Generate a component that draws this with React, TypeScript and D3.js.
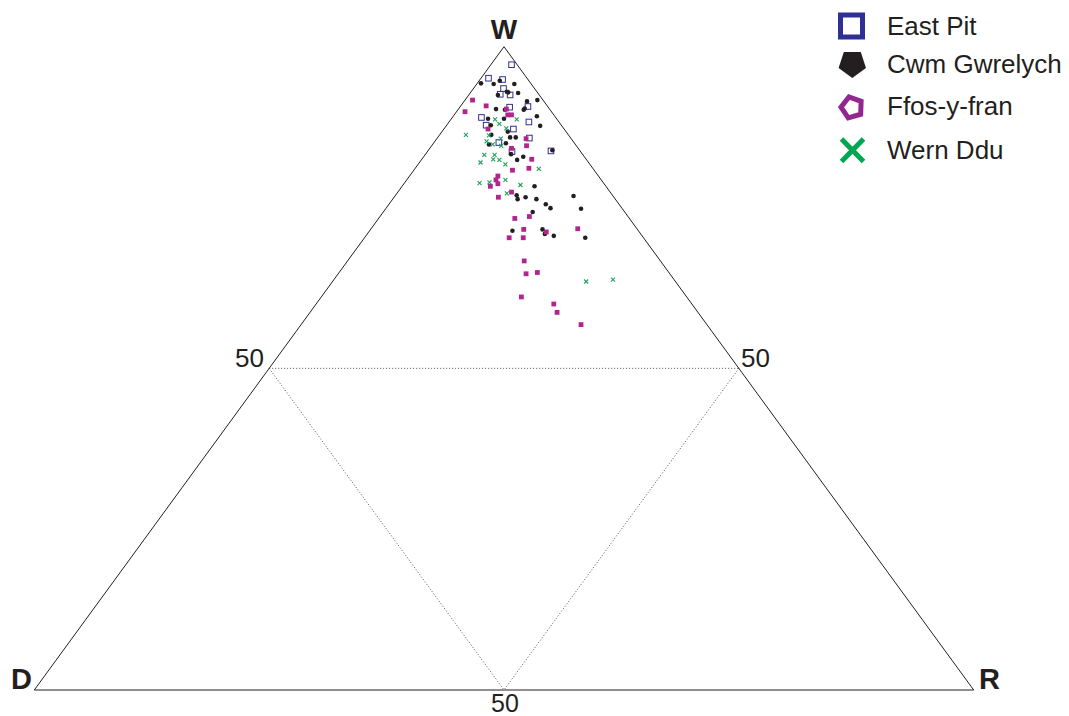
import React from "react";
import * as d3 from "d3";

// Ternary compositions in percent: [W, R] (D = 100 - W - R)
const eastPit: [number, number][] = [
  [97.2, 2.2], [95.1, 0.8], [94.9, 2.4], [93.5, 3.2], [92.6, 3.3], [92.5, 4.4],
  [90.7, 7.2], [90.6, 5.3], [89.0, 3.1], [88.3, 8.5], [87.8, 4.2], [87.2, 7.4],
  [85.8, 9.8], [85.1, 6.9], [83.7, 9.0], [83.8, 13.1],
];
const cwmGwrelych: [number, number][] = [
  [94.3, 0.4], [94.2, 1.8], [94.7, 2.2], [94.2, 4.0], [93.0, 3.8], [92.9, 4.0],
  [92.5, 3.1], [92.8, 5.1], [91.5, 6.7], [91.7, 7.7], [90.4, 7.0], [90.2, 7.0],
  [90.3, 4.0], [90.2, 5.0], [88.8, 3.9], [88.8, 5.6], [89.2, 8.9], [87.7, 10.0],
  [87.8, 4.7], [86.8, 7.0], [86.3, 5.5], [85.9, 7.7], [85.9, 8.3], [84.8, 6.0],
  [85.0, 7.7], [83.3, 9.1], [83.9, 13.2], [82.9, 10.6], [82.4, 10.2], [78.3, 14.1],
  [76.9, 12.9], [76.3, 13.3], [76.6, 14.0], [76.3, 15.3], [76.8, 19.0], [75.5, 16.7],
  [74.9, 17.5], [74.8, 20.8], [74.3, 15.9], [71.4, 15.2], [71.6, 18.3], [70.9, 18.9],
  [70.6, 20.0], [70.3, 23.5],
];
const ffosYFran: [number, number][] = [
  [91.7, 0.8], [90.8, 2.7], [89.9, 0.9], [90.3, 5.1], [89.4, 5.7], [89.4, 6.1],
  [87.2, 4.7], [85.7, 9.5], [84.6, 10.1], [84.2, 8.7], [82.5, 11.7], [80.8, 10.5],
  [81.1, 12.1], [79.9, 9.4], [79.3, 9.5], [78.7, 10.0], [78.3, 9.4], [77.4, 12.1],
  [76.6, 11.1], [73.3, 14.5], [73.6, 15.9], [71.6, 16.3], [71.2, 18.9], [71.7, 22.0],
  [70.3, 15.4], [70.3, 16.9], [66.7, 18.8], [64.7, 20.0], [64.9, 21.1], [61.1, 21.3],
  [60.0, 25.3], [58.7, 26.3], [56.8, 29.8],
];
const wernDdu: [number, number][] = [
  [88.7, 4.7], [88.0, 5.5], [88.7, 7.0], [87.3, 6.6], [86.3, 2.8], [86.2, 5.3],
  [85.3, 5.5], [85.7, 6.8], [84.8, 6.4], [84.6, 7.4], [83.2, 6.3], [83.2, 7.4],
  [82.5, 7.6], [82.4, 8.3], [82.0, 6.5], [81.7, 9.3], [81.0, 13.2], [79.3, 10.5],
  [78.8, 8.0], [78.9, 9.0], [78.5, 12.5], [77.2, 11.7], [63.5, 27.0], [63.8, 29.7],
];
const seriesNames = ["East Pit", "Cwm Gwrelych", "Ffos-y-fran", "Wern Ddu"];
const apexLabels = ["W", "D", "R"];
const gridLabel = "50";

const C_BLUE = "#2e3192";
const C_BLACK = "#231f20";
const C_MAG = "#b3248e";
const C_PURPLE = "#92278f";
const C_GREEN = "#1ea35a";
const C_GREEN_L = "#00a651";

const yScale = d3.scaleLinear().domain([0, 100]).range([690, 46.7]);
const xScale = d3.scaleLinear().domain([0, 100]).range([34.3, 973.7]);
const px = (w: number, r: number): [number, number] => [xScale(r + w / 2), yScale(w)];

function pentagon(cx: number, cy: number, R: number, rotDeg: number) {
  const pts: string[] = [];
  for (let i = 0; i < 5; i++) {
    const a = ((rotDeg + i * 72) * Math.PI) / 180;
    pts.push(`${cx + R * Math.sin(a)},${cy - R * Math.cos(a)}`);
  }
  return pts.join(" ");
}

export default function App() {
  const W = px(100, 0);
  const D = px(0, 0);
  const R = px(0, 100);
  const mL = px(50, 0);
  const mR = px(50, 50);
  const mB = px(0, 50);
  const font = "'Liberation Sans', Arial, sans-serif";
  const tri = d3.line()([W, D, R, W] as [number, number][]) + "Z";
  return (
    <svg width={1069} height={716} style={{ position: "absolute", left: 0, top: 0, background: "#fff" }} fontFamily={font}>
      <rect width={1069} height={716} fill="#fff" />
      <g stroke="#555" strokeWidth={1} strokeDasharray="1,2" fill="none">
        <line x1={mL[0]} y1={mL[1]} x2={mR[0]} y2={mR[1]} />
        <line x1={mL[0]} y1={mL[1]} x2={mB[0]} y2={mB[1]} />
        <line x1={mR[0]} y1={mR[1]} x2={mB[0]} y2={mB[1]} />
      </g>
      <path d={tri} fill="none" stroke="#231f20" strokeWidth={1} />
      {/* points */}
      {eastPit.map(([w, r], i) => {
        const [x, y] = px(w, r);
        return <rect key={"e" + i} x={x - 2.8} y={y - 2.8} width={5.6} height={5.6} fill="#fff" stroke={C_BLUE} strokeWidth={1} />;
      })}
      {cwmGwrelych.map(([w, r], i) => {
        const [x, y] = px(w, r);
        return <circle key={"c" + i} cx={x} cy={y} r={2.3} fill={C_BLACK} />;
      })}
      {ffosYFran.map(([w, r], i) => {
        const [x, y] = px(w, r);
        return <rect key={"f" + i} x={x - 2.4} y={y - 2.4} width={4.8} height={4.8} fill={C_MAG} />;
      })}
      {wernDdu.map(([w, r], i) => {
        const [x, y] = px(w, r);
        const s = 2;
        return (
          <path key={"w" + i} d={`M${x - s},${y - s}L${x + s},${y + s}M${x - s},${y + s}L${x + s},${y - s}`} stroke={C_GREEN} strokeWidth={1.1} />
        );
      })}
      {/* apex labels */}
      <text x={W[0]} y={38.5} textAnchor="middle" fontSize={28} fontWeight="bold" fill={C_BLACK}>{apexLabels[0]}</text>
      <text x={11} y={689} fontSize={29} fontWeight="bold" fill={C_BLACK}>{apexLabels[1]}</text>
      <text x={979} y={689} fontSize={29} fontWeight="bold" fill={C_BLACK}>{apexLabels[2]}</text>
      <text x={264} y={366.5} textAnchor="end" fontSize={26} fill={C_BLACK}>{gridLabel}</text>
      <text x={741} y={366.5} fontSize={26} fill={C_BLACK}>{gridLabel}</text>
      <text x={mB[0] + 1} y={712} textAnchor="middle" fontSize={25} fill={C_BLACK}>{gridLabel}</text>
      {/* legend */}
      <rect x={840.5} y={15} width={22} height={22} fill="none" stroke={C_BLUE} strokeWidth={5} />
      <polygon points={pentagon(852.3, 63.6, 14.4, 180)} fill={C_BLACK} />
      <polygon points={pentagon(852, 107.5, 11, 200)} fill="none" stroke={C_PURPLE} strokeWidth={5} strokeLinejoin="miter" />
      <path d="M841.5,139L863.5,161.5M841.5,161.5L863.5,139" stroke={C_GREEN_L} strokeWidth={5} />
      <text x={887} y={35} fontSize={26} fill={C_BLACK}>{seriesNames[0]}</text>
      <text x={887} y={73} fontSize={26} fill={C_BLACK}>{seriesNames[1]}</text>
      <text x={887} y={115} fontSize={26} fill={C_BLACK}>{seriesNames[2]}</text>
      <text x={887} y={159} fontSize={26} fill={C_BLACK}>{seriesNames[3]}</text>
    </svg>
  );
}
